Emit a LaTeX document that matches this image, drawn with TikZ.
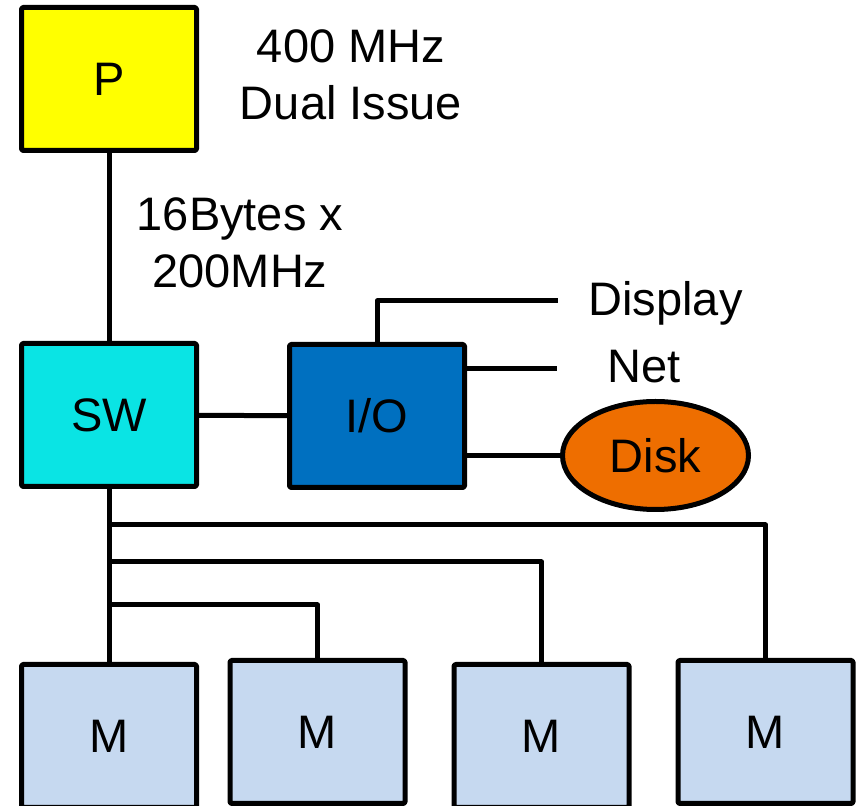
\documentclass[tikz,border=0pt]{standalone}
\usepackage{fontspec}
\setmainfont{Liberation Sans}
\usepackage{tikz}
\usetikzlibrary{shapes}

\definecolor{ProcYellow}{RGB}{255,255,0}
\definecolor{SwitchCyan}{RGB}{10,228,228}
\definecolor{IoBlue}{RGB}{0,112,192}
\definecolor{DiskOrange}{RGB}{238,110,0}
\definecolor{MemBlue}{RGB}{198,217,240}

\begin{document}
\begin{tikzpicture}[line width=5bp, line join=round,
  font=\fontsize{47bp}{57bp}\selectfont,
  unit/.style={draw=black, rectangle, rounded corners=1.5bp, inner sep=0pt,
    minimum width=175bp, minimum height=143bp},
  memunit/.style={unit, fill=MemBlue},
  label/.style={inner sep=0pt, align=center}]
\useasboundingbox (0bp,0bp) rectangle (860bp,806bp);
%%
\node (proc) at (109bp,727bp) [unit,fill=ProcYellow] {P};
\node (sw) at (109bp,391bp) [unit,fill=SwitchCyan] {SW};
\node (io) at (377bp,390bp) [unit,fill=IoBlue] {I/O};
\node (disk) at (655.5bp,350.5bp)
  [draw=black,fill=DiskOrange,ellipse,inner sep=0pt,
   minimum width=186bp,minimum height=108bp] {Disk};
%%
\node (mem1) at (109bp,70bp) [memunit] {M};
\node (mem2) at (317.5bp,74bp) [memunit] {M};
\node (mem3) at (541.5bp,70bp) [memunit] {M};
\node (mem4) at (765.5bp,74bp) [memunit] {M};
%%
\node (clock) at (351bp,731bp) [label] {400 MHz\\Dual Issue};
\node (width) at (240bp,563bp) [label] {16Bytes x\\200MHz};
\node (display) at (586bp,503bp) [label,anchor=west] {Display};
\node (net) at (605bp,439bp) [label,anchor=west] {Net};
%%
\coordinate (display_end) at (558bp,505bp);
\coordinate (net_end) at (557bp,437bp);
\coordinate (tap_a) at (109bp,281bp);
\coordinate (tap_b) at (109bp,244bp);
\coordinate (tap_c) at (109bp,201bp);

\draw (proc) -- (sw);
\draw (sw) -- (io);

\draw (io.north) |- (display_end);
\draw (net_end -| io.east) -- (net_end);
\draw (disk.west -| io.east) -- (disk.west);

\draw (sw.south) -- (mem1.north);
\draw (tap_a) -| (mem4.north);
\draw (tap_b) -| (mem3.north);
\draw (tap_c) -| (mem2.north);
\end{tikzpicture}
\end{document}
